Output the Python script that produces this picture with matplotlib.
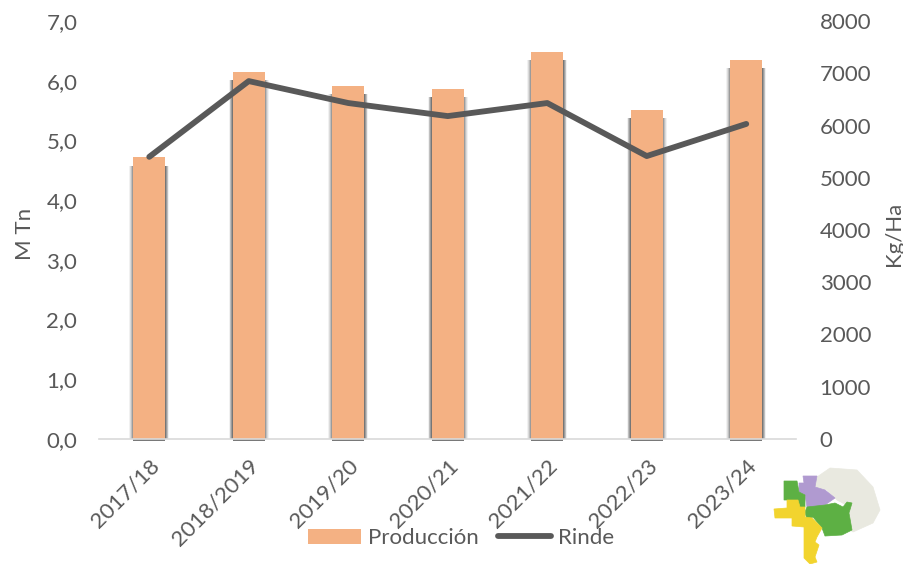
import matplotlib
matplotlib.use("Agg")
import matplotlib.pyplot as plt
from matplotlib.patches import Polygon

campanias = ["2017/18", "2018/2019", "2019/20", "2020/21", "2021/22", "2022/23", "2023/24"]
produccion = [4.72, 6.15, 5.91, 5.86, 6.48, 5.51, 6.35]
rinde = [5400, 6850, 6430, 6180, 6430, 5415, 6030]
ticks_prod = [0, 1, 2, 3, 4, 5, 6, 7]
ticks_rinde = [0, 1000, 2000, 3000, 4000, 5000, 6000, 7000, 8000]

# map regions, in pixels of a small 144x114 box
zona_gris = [(57, 27), (70, 18), (97, 20), (113, 37), (120, 60), (113, 73), (93, 82),
             (90, 80), (90, 57), (77, 50), (67, 40), (55, 37)]
zona_violeta = [(43, 26), (57, 26), (55, 37), (65, 40), (75, 48), (65, 55), (57, 57),
                (47, 57), (45, 45), (39, 42), (39, 33), (44, 33)]
zona_verde_n = [(24, 31), (37, 31), (39, 42), (45, 45), (45, 57), (38, 57), (38, 50), (24, 50)]
zona_verde = [(45, 62), (47, 57), (65, 55), (75, 53), (83, 57), (87, 52), (92, 53), (89, 63),
              (92, 80), (82, 85), (65, 86), (62, 78), (53, 67), (47, 70)]
zona_amarilla = [(27, 50), (38, 50), (40, 57), (45, 57), (45, 67), (52, 68), (62, 78), (57, 87),
                 (55, 92), (59, 95), (55, 107), (57, 112), (50, 114), (44, 108), (44, 77),
                 (32, 76), (32, 68), (15, 68), (14, 59), (27, 58)]

gris = "#595959"
naranja = "#F4B183"
plt.rcParams["font.family"] = ["Lato", "DejaVu Sans"]

W, H = 904, 564
fig = plt.figure(figsize=(W / 100, H / 100), dpi=100)
ax = fig.add_axes([99.5 / W, 1 - 439 / H, (796 - 99.5) / W, 418 / H])

x = list(range(len(campanias)))
# soft shadow on the sides of the bars
for ancho, alfa in [(0.40, 0.07), (0.385, 0.12), (0.37, 0.18), (0.355, 0.28), (0.335, 0.4)]:
    ax.bar(x, [v - 0.14 for v in produccion], width=ancho, color="#404040", alpha=alfa, linewidth=0, zorder=2)
barras = ax.bar(x, produccion, width=0.32, color=naranja, linewidth=0, zorder=3, label="Producción")
# dark edge under each bar, below the axis line
ax.bar(x, [-0.03] * len(x), width=0.32, color="#404040", alpha=0.7, linewidth=0, zorder=2, clip_on=False)

ax.set_xlim(-0.5, 6.5)
ax.set_ylim(0, 7)
ax.set_yticks(ticks_prod)
ax.set_yticklabels([f"{t},0" for t in ticks_prod])
ax.set_xticks(x)
ax.set_xticklabels(campanias, rotation=45, ha="right", rotation_mode="anchor")
ax.tick_params(axis="both", length=0, labelsize=16, labelcolor=gris)
ax.tick_params(axis="y", pad=16)
ax.tick_params(axis="x", pad=12)
for lado in ["top", "left", "right"]:
    ax.spines[lado].set_visible(False)
ax.spines["bottom"].set_color("#D9D9D9")
ax.spines["bottom"].set_linewidth(1.2)
ax.spines["bottom"].set_zorder(4)
ax.set_ylabel("M Tn", fontsize=16, color=gris)
ax.yaxis.set_label_coords((35 - 99.5) / (796 - 99.5), 0.49)

ax2 = ax.twinx()
ax2.plot(x, rinde, color=gris, linewidth=4.2, solid_capstyle="round", zorder=5, label="Rinde")
ax2.set_ylim(0, 8000)
ax2.set_yticks(ticks_rinde)
ax2.tick_params(axis="y", length=0, labelsize=16, labelcolor=gris, pad=17)
for lado in ["top", "left", "right", "bottom"]:
    ax2.spines[lado].set_visible(False)
ax2.set_ylabel("Kg/Ha", fontsize=16, color=gris)
ax2.yaxis.set_label_coords((884 - 99.5) / (796 - 99.5), 0.49)

linea = ax2.get_lines()[0]
fig.legend([barras, linea], ["Producción", "Rinde"], loc="center", bbox_to_anchor=(461 / W, 1 - 538 / H),
           ncol=2, frameon=False, fontsize=16, labelcolor=gris, handlelength=2.4, handleheight=0.65,
           handletextpad=0.3, columnspacing=0.85, borderpad=0)

# little region map at the bottom right
mapa = fig.add_axes([760 / W, 0, 144 / W, 114 / H])
mapa.set_xlim(0, 144)
mapa.set_ylim(114, 0)
mapa.axis("off")
for puntos, color in [(zona_gris, "#E9E9E0"), (zona_violeta, "#B09AD0"), (zona_verde_n, "#5DB044"),
                      (zona_verde, "#5DB044"), (zona_amarilla, "#F2D42E")]:
    mapa.add_patch(Polygon(puntos, closed=True, facecolor=color, edgecolor=color, linewidth=0.5))

fig.savefig("out.png", dpi=100)
